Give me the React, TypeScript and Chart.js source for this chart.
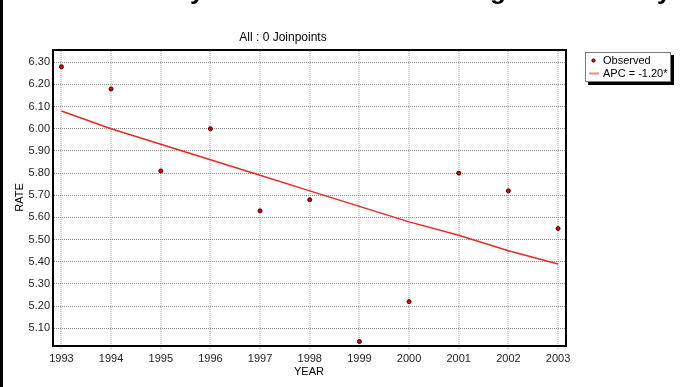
import React, { useEffect, useRef } from 'react';
import { Chart, registerables } from 'chart.js';

Chart.register(...registerables);

const years = [1993, 1994, 1995, 1996, 1997, 1998, 1999, 2000, 2001, 2002, 2003];
const observed = [6.28, 6.18, 5.81, 6.0, 5.63, 5.68, 5.04, 5.22, 5.8, 5.72, 5.55];
const apcFit = [6.08, 6.0, 5.93, 5.86, 5.79, 5.72, 5.65, 5.58, 5.52, 5.45, 5.39];
const yTicks = [5.1, 5.2, 5.3, 5.4, 5.5, 5.6, 5.7, 5.8, 5.9, 6.0, 6.1, 6.2, 6.3];
const chartTitle = 'All : 0 Joinpoints';
const xTitle = 'YEAR';
const yTitle = 'RATE';
const legendLabels = ['Observed', 'APC = -1.20*'];

const FONT = "'Liberation Sans', Arial, sans-serif";

const decorPlugin = {
  id: 'decor',
  beforeDatasetsDraw(chart: any) {
    const { ctx, chartArea } = chart;
    const { left, top, right, bottom } = chartArea;
    ctx.save();
    ctx.strokeStyle = '#000';
    ctx.lineWidth = 2;
    ctx.setLineDash([]);
    ctx.strokeRect(left + 1, top + 1, right - left - 1, bottom - top - 1);
    ctx.restore();
  },
  afterDraw(chart: any) {
    const { ctx, chartArea } = chart;
    ctx.save();
    // left black edge of the screenshot
    ctx.fillStyle = '#000';
    ctx.fillRect(0, 0, 3, chart.height);
    // cut-off heading fragments at the very top
    ctx.font = `bold 26px ${FONT}`;
    ctx.textBaseline = 'alphabetic';
    ctx.fillText('y', 190, -1);
    ctx.fillText('g', 490, -1);
    ctx.fillText('y', 657, -1);

    // legend
    const lx = chartArea.right + 19;
    const ly = chartArea.top + 3;
    const lw = 86;
    const lh = 30;
    ctx.fillStyle = '#000';
    ctx.fillRect(lx + 3, ly + 3, lw, lh);
    ctx.fillStyle = '#fff';
    ctx.fillRect(lx, ly, lw, lh);
    ctx.strokeStyle = '#7a7a7a';
    ctx.lineWidth = 1;
    ctx.strokeRect(lx + 0.5, ly + 0.5, lw - 1, lh - 1);

    // Observed marker
    ctx.beginPath();
    ctx.arc(lx + 8.5, ly + 8.5, 1.6, 0, Math.PI * 2);
    ctx.fillStyle = '#e00000';
    ctx.fill();
    ctx.strokeStyle = '#400000';
    ctx.lineWidth = 1;
    ctx.stroke();

    // APC line marker
    ctx.beginPath();
    ctx.moveTo(lx + 4, ly + 21.5);
    ctx.lineTo(lx + 14, ly + 21.5);
    ctx.strokeStyle = '#f08a8a';
    ctx.lineWidth = 2;
    ctx.stroke();

    ctx.fillStyle = '#000';
    ctx.font = `11px ${FONT}`;
    ctx.textBaseline = 'middle';
    ctx.textAlign = 'left';
    ctx.fillText(legendLabels[0], lx + 18, ly + 8.5);
    ctx.fillText(legendLabels[1], lx + 18, ly + 21.5);
    ctx.restore();
  },
};

export default function App() {
  const canvasRef = useRef<HTMLCanvasElement | null>(null);

  useEffect(() => {
    document.body.style.margin = '0';
    const canvas = canvasRef.current;
    if (!canvas) return;
    const chart = new Chart(canvas, {
      type: 'scatter',
      data: {
        datasets: [
          {
            type: 'scatter',
            label: legendLabels[0],
            data: years.map((x, i) => ({ x, y: observed[i] })),
            pointRadius: 2,
            pointBackgroundColor: '#e00000',
            pointBorderColor: '#3a0000',
            pointBorderWidth: 1,
            showLine: false,
          },
          {
            type: 'line',
            label: legendLabels[1],
            data: years.map((x, i) => ({ x, y: apcFit[i] })),
            borderColor: '#e82828',
            borderWidth: 1.5,
            pointRadius: 0,
            fill: false,
            tension: 0,
          },
        ],
      } as any,
      options: {
        responsive: false,
        animation: false,
        layout: { padding: { left: 0, right: 122, top: 0, bottom: 0 } },
        plugins: {
          legend: { display: false },
          tooltip: { enabled: false },
          title: {
            display: true,
            text: chartTitle,
            color: '#000',
            font: { family: FONT, size: 12, weight: 'normal' },
            padding: { top: 30.8, bottom: 3.8 },
          },
        },
        scales: {
          x: {
            type: 'linear',
            min: 1992.81,
            max: 2003.16,
            afterBuildTicks: (scale: any) => {
              scale.ticks = years.map((v) => ({ value: v }));
            },
            afterFit: (scale: any) => {
              scale.height = 41;
            },
            ticks: {
              color: '#222',
              font: { family: FONT, size: 11 },
              padding: 2,
              maxRotation: 0,
              autoSkip: false,
              callback: (v: any) => String(v),
            },
            grid: {
              color: 'rgba(170,170,170,0.5)',
              lineWidth: 2,
              drawTicks: true,
              tickLength: 4,
              tickBorderDash: [1, 1],
            },
            border: { display: false, dash: [1, 1] },
            title: {
              display: true,
              text: xTitle,
              color: '#000',
              font: { family: FONT, size: 11 },
              padding: { top: 0, bottom: 8.4 },
            },
          },
          y: {
            type: 'linear',
            min: 5.02,
            max: 6.36,
            afterBuildTicks: (scale: any) => {
              scale.ticks = yTicks.map((v) => ({ value: v }));
            },
            afterFit: (scale: any) => {
              scale.width = 52;
            },
            ticks: {
              color: '#222',
              font: { family: FONT, size: 11 },
              padding: 2,
              autoSkip: false,
              callback: (v: any) => Number(v).toFixed(2),
            },
            grid: {
              color: '#8c8c8c',
              lineWidth: 1,
              drawTicks: false,
            },
            border: { display: false, dash: [1, 1] },
            title: {
              display: true,
              text: yTitle,
              color: '#000',
              font: { family: FONT, size: 11 },
              padding: { top: 13.4, bottom: 0 },
            },
          },
        },
      } as any,
      plugins: [decorPlugin],
    });
    return () => chart.destroy();
  }, []);

  return (
    <div style={{ width: 688, height: 387, background: '#fff' }}>
      <canvas ref={canvasRef} width={688} height={387} style={{ display: 'block' }} />
    </div>
  );
}
